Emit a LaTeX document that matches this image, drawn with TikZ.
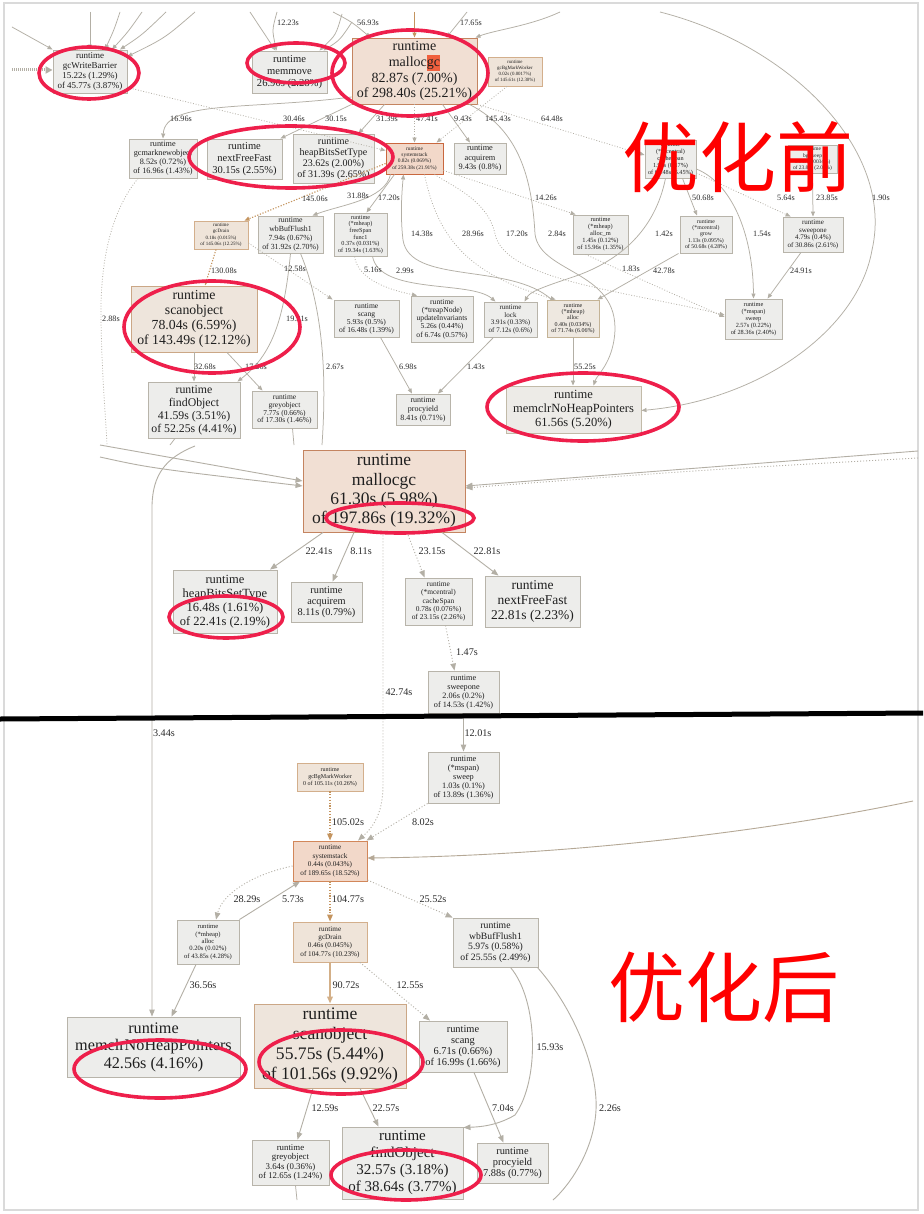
\documentclass[tikz,border=0pt]{standalone}
\usepackage{fontspec}
\setmainfont{Liberation Serif}
\newfontfamily\cjkfont{Noto Sans CJK SC}
\usetikzlibrary{arrows.meta}
\definecolor{boxfill}{HTML}{EDEDEB}
\definecolor{boxline}{HTML}{B8B4AA}
\definecolor{mallocfill}{HTML}{F1DFD3}
\definecolor{mallocline}{HTML}{C48460}
\definecolor{sysfill}{HTML}{F2D8C9}
\definecolor{sysline}{HTML}{C9683F}
\definecolor{sys2line}{HTML}{D2875A}
\definecolor{palefill}{HTML}{EFE4D9}
\definecolor{paleline}{HTML}{D3AF8C}
\definecolor{scofill}{HTML}{EEE5DC}
\definecolor{scoline}{HTML}{CBA786}
\definecolor{alfill}{HTML}{EEE8E0}
\definecolor{alline}{HTML}{C4B396}
\definecolor{mcfill}{HTML}{EDEBE7}
\definecolor{mcline}{HTML}{C2BAA8}
\definecolor{edgec}{HTML}{B3AFA5}
\definecolor{edgeo}{HTML}{C4945F}
\definecolor{lblc}{HTML}{2B2B2B}
\definecolor{ringc}{HTML}{EE1F4B}
\definecolor{cjkred}{HTML}{FF0000}
\definecolor{hlc}{HTML}{F0603E}
\definecolor{framec}{HTML}{DADADA}
\newcommand\hlgc[1]{{\setlength{\fboxsep}{0pt}\colorbox{hlc}{\strut #1}}}
\newcommand\gvbox[9]{%
  \pgfmathsetmacro\gvw{#4-#2}%
  \pgfmathsetmacro\gvh{#5-#3}%
  \pgfmathsetmacro\gvcx{(#2+#4)/2}%
  \pgfmathsetmacro\gvcy{(#3+#5)/2}%
  \node[#6, minimum width=\gvw pt, minimum height=\gvh pt, font=\fontsize{#7}{#8}\selectfont] (#1) at (\gvcx,\gvcy) {#9};}
\begin{document}
\begin{tikzpicture}[x=1pt,y=-1pt,
  boxG/.style={draw=boxline, fill=boxfill, line width=0.9pt, align=center, inner sep=0pt, text=black!88},
  boxM/.style={boxG, fill=mallocfill, draw=mallocline},
  boxS/.style={boxG, fill=sysfill, draw=sysline},
  boxS2/.style={boxG, fill=sysfill, draw=sys2line},
  boxP/.style={boxG, fill=palefill, draw=paleline},
  boxC/.style={boxG, fill=scofill, draw=scoline},
  boxA/.style={boxG, fill=alfill, draw=alline},
  boxMC/.style={boxG, fill=mcfill, draw=mcline},
  edgeT/.style={draw=edgec, line width=0.75pt, -{Triangle[length=5pt,width=4pt]}},
  edgeTd/.style={edgeT, dash pattern=on 0.9pt off 1.8pt},
  edgeTo/.style={edgeT, draw=edgeo, line width=1.1pt, dash pattern=on 1.2pt off 1.6pt},
  edgeB/.style={draw=edgec, line width=0.9pt, -{Triangle[length=7pt,width=5.5pt]}},
  edgeBd/.style={edgeB, dash pattern=on 1pt off 2pt},
  edgeBo/.style={edgeB, draw=edgeo, line width=1.4pt, dash pattern=on 1.2pt off 1.6pt},
  edgeThick/.style={draw=edgec, line width=3pt, dash pattern=on 1.2pt off 0.8pt, -{Triangle[length=7pt,width=7pt]}},
  stubT/.style={draw=edgec, line width=0.75pt},
  labT/.style={font=\fontsize{8.2}{9}\selectfont, text=lblc, inner sep=0pt},
  labB/.style={font=\fontsize{10.2}{11}\selectfont, text=lblc, inner sep=0pt},
  redRing/.style={draw=ringc, line width=3.6pt},
  cjkText/.style={font=\cjkfont\fontsize{77}{80}\selectfont, text=cjkred, inner sep=0pt}]
\useasboundingbox (0,0) rectangle (923,1214);
\fill[white] (0,0) rectangle (923,1214);
\draw[framec, line width=1.2pt] (4,3) rectangle (918,1210);

% ---------- top (before) nodes ----------
\gvbox{wbA}{53}{50}{127}{93}{boxG}{9}{9.8}{runtime\\gcWriteBarrier\\15.22s (1.29\%)\\of 45.77s (3.87\%)}
\gvbox{mmA}{252}{51}{327}{93}{boxG}{10.6}{12}{runtime\\memmove\\26.90s (2.28\%)}
\gvbox{mallocA}{352}{38}{477}{104}{boxM}{14}{15.8}{runtime\\malloc\hlgc{gc}\\82.87s (7.00\%)\\of 298.40s (25.21\%)}
\gvbox{bgmwA}{488}{57}{542}{86}{boxP}{4.9}{6.2}{runtime\\gcBgMarkWorker\\0.02s (0.0017\%)\\of 145.61s (12.30\%)}
\gvbox{gcmnA}{129}{139}{197}{178}{boxG}{8.2}{9}{runtime\\gcmarknewobject\\8.52s (0.72\%)\\of 16.96s (1.43\%)}
\gvbox{nffA}{207}{139}{282}{179}{boxG}{10.5}{11.7}{runtime\\nextFreeFast\\30.15s (2.55\%)}
\gvbox{hbstA}{293}{134}{374}{183}{boxG}{10}{11}{runtime\\heapBitsSetType\\23.62s (2.00\%)\\of 31.39s (2.65\%)}
\gvbox{sysA}{386}{143}{443}{174}{boxS}{5.4}{6.2}{runtime\\systemstack\\0.82s (0.069\%)\\of 259.38s (21.91\%)}
\gvbox{acqA}{454}{143}{506}{174}{boxG}{8.3}{9.5}{runtime\\acquirem\\9.43s (0.8\%)}
\gvbox{csA}{645}{140}{696}{178}{boxG}{6.2}{7}{runtime\\(*mcentral)\\cacheSpan\\1.98s (0.17\%)\\of 64.48s (5.45\%)}
\gvbox{bgswA}{788}{145}{837}{173}{boxG}{5.4}{6.3}{runtime\\bgsweep\\0.04s (0.0034\%)\\of 23.85s (2.01\%)}
\gvbox{gcdA}{194}{221}{248}{249}{boxP}{5}{6.3}{runtime\\gcDrain\\0.18s (0.015\%)\\of 145.06s (12.25\%)}
\gvbox{wbfA}{258}{216}{323}{253}{boxG}{7.8}{9}{runtime\\wbBufFlush1\\7.94s (0.67\%)\\of 31.92s (2.70\%)}
\gvbox{fsA}{334}{213}{387}{256}{boxG}{6.2}{6.6}{runtime\\(*mheap)\\freeSpan\\func1\\0.37s (0.031\%)\\of 19.34s (1.63\%)}
\gvbox{amA}{573}{215}{628}{254}{boxG}{6.4}{7}{runtime\\(*mheap)\\alloc\_m\\1.45s (0.12\%)\\of 15.96s (1.35\%)}
\gvbox{growA}{680}{216}{732}{253}{boxG}{5.8}{6.3}{runtime\\(*mcentral)\\grow\\1.13s (0.095\%)\\of 50.68s (4.28\%)}
\gvbox{swoA}{783}{217}{843}{252}{boxG}{7}{7.6}{runtime\\sweepone\\4.79s (0.4\%)\\of 30.86s (2.61\%)}
\gvbox{scoA}{131}{286}{257}{352}{boxC}{13.8}{15}{runtime\\scanobject\\78.04s (6.59\%)\\of 143.49s (12.12\%)}
\gvbox{foA}{148}{382}{240}{438}{boxG}{11.8}{13}{runtime\\findObject\\41.59s (3.51\%)\\of 52.25s (4.41\%)}
\gvbox{goA}{252}{391}{317}{428}{boxG}{7.5}{7.8}{runtime\\greyobject\\7.77s (0.66\%)\\of 17.30s (1.46\%)}
\gvbox{scgA}{334}{300}{399}{337}{boxG}{7.6}{8}{runtime\\scang\\5.93s (0.5\%)\\of 16.48s (1.39\%)}
\gvbox{tnA}{411}{296}{473}{342}{boxG}{7.6}{8.2}{runtime\\(*treapNode)\\updateInvariants\\5.26s (0.44\%)\\of 6.74s (0.57\%)}
\gvbox{lockA}{484}{302}{537}{337}{boxG}{7}{7.7}{runtime\\lock\\3.91s (0.33\%)\\of 7.12s (0.6\%)}
\gvbox{alA}{547}{300}{599}{337}{boxA}{6}{6.4}{runtime\\(*mheap)\\alloc\\0.40s (0.034\%)\\of 71.74s (6.06\%)}
\gvbox{swA}{725}{299}{782}{339}{boxG}{6.3}{7}{runtime\\(*mspan)\\sweep\\2.57s (0.22\%)\\of 28.36s (2.40\%)}
\gvbox{pyA}{396}{394}{450}{425}{boxG}{8}{8.8}{runtime\\procyield\\8.41s (0.71\%)}
\gvbox{mcA}{506}{386}{641}{433}{boxMC}{12.5}{14}{runtime\\memclrNoHeapPointers\\61.56s (5.20\%)}

% ---------- middle nodes ----------
\gvbox{mallocB}{303}{450}{465}{532}{boxM}{17.5}{19.3}{runtime\\mallocgc\\61.30s (5.98\%)\\of 197.86s (19.32\%)}
\gvbox{hbstB}{173}{570}{277}{633}{boxG}{12.5}{14}{runtime\\heapBitsSetType\\16.48s (1.61\%)\\of 22.41s (2.19\%)}
\gvbox{acqB}{291}{582}{362}{622}{boxG}{10.3}{11}{runtime\\acquirem\\8.11s (0.79\%)}
\gvbox{csB}{405}{578}{472}{625}{boxG}{7.4}{8.2}{runtime\\(*mcentral)\\cacheSpan\\0.78s (0.076\%)\\of 23.15s (2.26\%)}
\gvbox{nffB}{485}{576}{580}{627}{boxG}{13.5}{15}{runtime\\nextFreeFast\\22.81s (2.23\%)}
\gvbox{swoB}{428}{671}{499}{713}{boxG}{8.2}{9}{runtime\\sweepone\\2.06s (0.2\%)\\of 14.53s (1.42\%)}

% ---------- bottom (after) nodes ----------
\gvbox{swB}{428}{752}{499}{803}{boxG}{8.3}{9}{runtime\\(*mspan)\\sweep\\1.03s (0.1\%)\\of 13.89s (1.36\%)}
\gvbox{bgmwB}{297}{763}{363}{791}{boxP}{6}{7}{runtime\\gcBgMarkWorker\\0 of 105.11s (10.26\%)}
\gvbox{sysB}{293}{841}{367}{881}{boxS2}{7.2}{8.5}{runtime\\systemstack\\0.44s (0.043\%)\\of 189.65s (18.52\%)}
\gvbox{alB}{177}{920}{239}{964}{boxG}{6.6}{7.4}{runtime\\(*mheap)\\alloc\\0.20s (0.02\%)\\of 43.85s (4.28\%)}
\gvbox{gcdB}{293}{922}{367}{962}{boxP}{7.2}{8.3}{runtime\\gcDrain\\0.46s (0.045\%)\\of 104.77s (10.23\%)}
\gvbox{wbfB}{453}{918}{538}{967}{boxG}{9.7}{10.5}{runtime\\wbBufFlush1\\5.97s (0.58\%)\\of 25.55s (2.49\%)}
\gvbox{mcB}{67}{1017}{240}{1077}{boxG}{16.2}{17.5}{runtime\\memclrNoHeapPointers\\42.56s (4.16\%)}
\gvbox{scoB}{254}{1004}{406}{1088}{boxC}{17.6}{20}{runtime\\scanobject\\55.75s (5.44\%)\\of 101.56s (9.92\%)}
\gvbox{scgB}{419}{1021}{507}{1072}{boxG}{10.4}{11}{runtime\\scang\\6.71s (0.66\%)\\of 16.99s (1.66\%)}
\gvbox{goB}{252}{1140}{329}{1185}{boxG}{8.8}{9.6}{runtime\\greyobject\\3.64s (0.36\%)\\of 12.65s (1.24\%)}
\gvbox{foB}{342}{1127}{463}{1199}{boxG}{15}{17}{runtime\\findObject\\32.57s (3.18\%)\\of 38.64s (3.77\%)}
\gvbox{pyB}{477}{1143}{548}{1183}{boxG}{10.4}{11}{runtime\\procyield\\7.88s (0.77\%)}

% ---------- free ends ----------
\coordinate (i1) at (12,27);
\coordinate (i2) at (90,12);
\coordinate (i3) at (120,12);
\coordinate (i4) at (142,12);
\coordinate (i5) at (166,12);
\coordinate (i6) at (195,12);
\coordinate (i7) at (12,70);
\coordinate (i8) at (250,12);
\coordinate (i9) at (277,12);
\coordinate (i10) at (342,14);
\coordinate (i11) at (352,22);
\coordinate (i12) at (333,12);
\coordinate (i13) at (414.5,12);
\coordinate (i14) at (467,12);
\coordinate (i15) at (560,12);
\coordinate (arcTop) at (660,12);
\coordinate (c1) at (322,445);
\coordinate (c2) at (107,445);
\coordinate (c3) at (170,445);
\coordinate (c4) at (294,445);
\coordinate (L1) at (100,445);
\coordinate (L2) at (100,457);
\coordinate (R1) at (918,451);
\coordinate (R2) at (918,458);
\coordinate (T344) at (195,446);
\coordinate (R3) at (913,801);
\coordinate (c5) at (553,1200);
\coordinate (c6) at (297,1200);

% ---------- top edges ----------
\draw[edgeT] (i1) -- (wbA.north west);
\draw[edgeT] (i2) -- (wbA.north);
\draw[edgeT] (i3) .. controls (114,30) .. ([xshift=15pt]wbA.north);
\draw[edgeT] (i4) .. controls (128,32) .. ([xshift=22pt]wbA.north);
\draw[edgeT] (i5) .. controls (142,35) .. ([xshift=30pt]wbA.north);
\draw[edgeT] (i6) .. controls (165,38) .. ([yshift=15pt]wbA.east);
\draw[edgeThick] (i7) -- ([yshift=1.5pt]wbA.west);
\draw[edgeT] (i8) -- ([xshift=-14pt]mmA.north);
\draw[edgeT] (i9) .. controls (272,30) .. ([xshift=-13pt]mmA.north);
\draw[edgeT] (i10) .. controls (336,35) .. ([xshift=30pt]mmA.north);
\draw[edgeT] (i11) .. controls (340,40) .. ([xshift=34pt]mmA.north);
\draw[edgeT] (i12) .. controls (352,22) .. ([xshift=-44pt]mallocA.north);
\draw[edgeTo, solid] (i13) -- (mallocA.north);
\draw[edgeT] (i14) -- ([xshift=32pt]mallocA.north);
\draw[edgeT] (i15) .. controls (530,26) and (495,30) .. ([xshift=-2pt]mallocA.north east);

\draw[edgeTd] ([yshift=-16pt]wbA.east) -- ([yshift=8pt]sysA.west);
\draw[edgeT] ([yshift=-26pt]mallocA.west) .. controls (250,110) and (165,100) .. (gcmnA.north);
\draw[edgeT] (mallocA.south west) -- ([xshift=-2pt]nffA.north east);
\draw[edgeT] ([xshift=-30pt]mallocA.south) -- ([xshift=25pt]hbstA.north);
\draw[edgeTd] (mallocA.south) -- (sysA.north);
\draw[edgeT] ([xshift=28pt]mallocA.south) -- ([xshift=-10pt]acqA.north);
\draw[edgeTd] ([xshift=-8pt]bgmwA.south) -- ([xshift=22pt]sysA.north);
\draw[edgeTd] (mallocA.south east) -- ([yshift=4pt]csA.west);
\draw[edgeT] ([xshift=-8pt]mallocA.south east) .. controls (520,130) and (532,180) .. (535,234) .. controls (540,275) and (625,270) .. (614,340) .. controls (610,365) and (597,375) .. ([xshift=20pt]mcA.north);
\draw[edgeTd] ([yshift=-12pt]sysA.east) -- ([xshift=3pt]amA.north west);
\draw[edgeTo] ([yshift=-5pt]sysA.west) -- ([xshift=-4pt]gcdA.north east);
\draw[edgeT] ([xshift=-24pt]sysA.south) .. controls (385,200) and (340,205) .. ([xshift=22pt]wbfA.north);
\draw[edgeT] ([xshift=-20pt]sysA.south) -- ([xshift=6pt]fsA.north);
\draw[edgeT] ([xshift=5pt]alA.north west) .. controls (510,262) and (410,285) .. (403,240) .. controls (400,215) and (402,190) .. ([xshift=-11pt]sysA.south);
\draw[edgeTd] ([xshift=10pt]sysA.south) .. controls (438,240) and (470,275) .. ([xshift=9pt]alA.north west);
\draw[edgeTd] ([xshift=20pt]sysA.south) .. controls (450,185) and (488,200) .. (495,234) .. controls (505,280) and (620,290) .. ([yshift=4pt]swA.west);
\draw[edgeTd] ([xshift=-6pt]fsA.south) .. controls (358,280) and (390,290) .. ([xshift=-25pt]tnA.north);
\draw[edgeT] ([xshift=12pt]fsA.south) .. controls (380,295) and (470,280) .. ([xshift=-15pt]lockA.north);
\draw[edgeT] ([xshift=-5pt]csA.south) .. controls (655,230) and (620,262) .. (570,278) .. controls (540,288) and (530,292) .. ([xshift=14pt]lockA.north);
\draw[edgeT] ([xshift=12pt]csA.south) -- ([xshift=-9pt]growA.north);
\draw[edgeT] ([yshift=-10pt]csA.east) .. controls (735,185) and (753,240) .. (swA.north);
\draw[edgeTd] ([yshift=-14pt]csA.east) -- ([xshift=8pt]swoA.north west);
\draw[edgeT] (bgswA.south) -- (swoA.north);
\draw[edgeT] ([xshift=-12pt]swoA.south) -- ([xshift=14pt]swA.north);
\draw[edgeT] ([xshift=-1pt]growA.south west) -- ([xshift=-2pt]alA.north east);
\draw[edgeTd] ([xshift=-15pt]amA.south) -- ([yshift=2pt]swA.west);
\draw[edgeT] (arcTop) .. controls (790,45) and (895,150) .. (872,250) .. controls (858,330) and (760,400) .. ([yshift=-1pt]mcA.east);
\draw[edgeTo] ([xshift=-5pt]gcdA.south) -- ([xshift=11pt]scoA.north);
\draw[edgeTd] ([yshift=-8pt]gcdA.east) -- ([xshift=-1pt]scgA.north west);
\draw[edgeT] (wbfA.south) .. controls (284,320) and (272,355) .. ([xshift=-3pt]foA.north east);
\draw[stubT] ([xshift=10pt]wbfA.south) .. controls (328,320) and (325,400) .. (c1);
\draw[edgeT] (scoA.south) -- (foA.north);
\draw[edgeT] ([xshift=33pt]scoA.south) -- ([xshift=-22pt]goA.north);
\draw[edgeT] ([xshift=14pt]scgA.south) -- ([xshift=-11pt]pyA.north);
\draw[edgeT] ([xshift=-17pt]lockA.south) -- ([xshift=15pt]pyA.north);
\draw[edgeT] (alA.south) -- ([xshift=-0.5pt]mcA.north);
\draw[stubT, dash pattern=on 0.9pt off 1.8pt] ([xshift=-25pt]gcmnA.south) .. controls (108,215) and (100,270) .. (101,320) .. controls (102,380) and (106,420) .. (c2);
\draw[stubT] ([xshift=-19pt]foA.south) -- (c3);
\draw[stubT] ([xshift=8pt]goA.south) -- (c4);

% top labels
\node[labT] (t01) at (181,119) {16.96s};
\node[labT] (t02) at (294,119) {30.46s};
\node[labT] (t03) at (336,119) {30.15s};
\node[labT] (t04) at (387,119) {31.39s};
\node[labT] (t05) at (427,119) {47.41s};
\node[labT] (t06) at (463,119) {9.43s};
\node[labT] (t07) at (498,119) {145.43s};
\node[labT] (t08) at (552,119) {64.48s};
\node[labT] (t09) at (288,23) {12.23s};
\node[labT] (t10) at (368,23) {56.93s};
\node[labT] (t11) at (471,23) {17.65s};
\node[labT] (t12) at (315,199) {145.06s};
\node[labT] (t13) at (358,196) {31.88s};
\node[labT] (t14) at (389,198) {17.20s};
\node[labT] (t15) at (546,198) {14.26s};
\node[labT] (t16) at (703,198) {50.68s};
\node[labT] (t17) at (786,198) {5.64s};
\node[labT] (t18) at (827,198) {23.85s};
\node[labT] (t19) at (881,198) {1.90s};
\node[labT] (t20) at (422,234) {14.38s};
\node[labT] (t21) at (473,234) {28.96s};
\node[labT] (t22) at (517,234) {17.20s};
\node[labT] (t23) at (557,234) {2.84s};
\node[labT] (t24) at (664,234) {1.42s};
\node[labT] (t25) at (762,234) {1.54s};
\node[labT] (t26) at (224,271) {130.08s};
\node[labT] (t27) at (295,269) {12.58s};
\node[labT] (t28) at (373,270) {5.16s};
\node[labT] (t29) at (405,271) {2.99s};
\node[labT] (t30) at (631,269) {1.83s};
\node[labT] (t31) at (664,271) {42.78s};
\node[labT] (t32) at (801,271) {24.91s};
\node[labT] (t33) at (111,319) {2.88s};
\node[labT] (t34) at (297,319) {19.31s};
\node[labT] (t35) at (205,367) {32.68s};
\node[labT] (t36) at (256,367) {17.20s};
\node[labT] (t37) at (335,367) {2.67s};
\node[labT] (t38) at (408,367) {6.98s};
\node[labT] (t39) at (476,367) {1.43s};
\node[labT] (t40) at (585,367) {55.25s};

% ---------- middle edges ----------
\draw[edgeB] (L1) -- ([yshift=10pt]mallocB.west);
\draw[edgeB] (L2) .. controls (150,468) .. ([yshift=5pt]mallocB.west);
\draw[edgeB] (R1) -- ([yshift=5pt]mallocB.east);
\draw[edgeBd] (R2) .. controls (700,470) .. ([yshift=3pt]mallocB.east);
\draw[edgeB] (T344) .. controls (165,458) and (153,475) .. (152,505) -- ([xshift=-1.5pt]mcB.north);
\draw[edgeB] ([xshift=-61pt]mallocB.south) -- ([xshift=45pt]hbstB.north);
\draw[edgeB] ([xshift=-30pt]mallocB.south) -- ([xshift=6pt]acqB.north);
\draw[edgeBd] ([xshift=23pt]mallocB.south) -- ([xshift=-14pt]csB.north);
\draw[edgeB] ([xshift=58pt]mallocB.south) -- ([xshift=-34pt]nffB.north);
\draw[edgeBd] ([xshift=-1pt]mallocB.south) -- (383,785) .. controls (383,815) and (372,828) .. ([xshift=28pt]sysB.north);
\draw[edgeBd] ([xshift=7pt]csB.south) -- ([xshift=-9pt]swoB.north);
\draw[edgeB] (swoB.south) -- (swB.north);

% ---------- bottom edges ----------
\draw[edgeBo] (bgmwB.south) -- (sysB.north);
\draw[edgeBd] (swB.south west) -- ([xshift=-1pt]sysB.north east);
\draw[edgeB, draw=edgec!85!brown] (R3) .. controls (750,835) and (550,856) .. ([yshift=3pt]sysB.east);
\draw[edgeBd] ([yshift=-5pt]sysB.west) .. controls (250,875) and (222,895) .. ([xshift=8pt]alB.north);
\draw[edgeB] (alB.north east) -- ([xshift=-30pt]sysB.south);
\draw[edgeBo] (sysB.south) -- (gcdB.north);
\draw[edgeBd] ([yshift=-19pt]sysB.east) -- (wbfB.north west);
\draw[edgeB] ([xshift=-12pt]alB.south) -- ([xshift=18pt]mcB.north);
\draw[edgeB, draw=edgeo!75, line width=2.4pt] (gcdB.south) -- (scoB.north);
\draw[edgeBd] ([xshift=30pt]gcdB.south) -- ([xshift=-33pt]scgB.north);
\draw[edgeB] ([xshift=15pt]wbfB.south) .. controls (538,1000) and (540,1080) .. (515,1115) .. controls (495,1127) and (475,1127) .. ([yshift=-1pt]foB.north east);
\draw[stubT, line width=0.9pt] ([xshift=-1pt]wbfB.south east) .. controls (575,1010) and (598,1070) .. (596,1110) .. controls (594,1150) and (570,1185) .. (c5);
\draw[edgeB] ([xshift=-17pt]scoB.south) -- ([xshift=7pt]goB.north);
\draw[edgeB] ([xshift=30pt]scoB.south) -- ([xshift=-24pt]foB.north);
\draw[edgeB] ([xshift=11pt]scgB.south) -- ([xshift=-9pt]pyB.north);
\draw[stubT] ([xshift=5pt]goB.south) -- (c6);

% middle and bottom labels
\node[labB] (b01) at (319,551) {22.41s};
\node[labB] (b02) at (361,551) {8.11s};
\node[labB] (b03) at (432,551) {23.15s};
\node[labB] (b04) at (487,551) {22.81s};
\node[labB] (b05) at (467,652) {1.47s};
\node[labB] (b06) at (399,692) {42.74s};
\node[labB] (b07) at (478,733) {12.01s};
\node[labB] (b08) at (164,733) {3.44s};
\node[labB] (b09) at (348,822) {105.02s};
\node[labB] (b10) at (423,822) {8.02s};
\node[labB] (b11) at (247,899) {28.29s};
\node[labB] (b12) at (293,899) {5.73s};
\node[labB] (b13) at (348,899) {104.77s};
\node[labB] (b14) at (433,899) {25.52s};
\node[labB] (b15) at (203,985) {36.56s};
\node[labB] (b16) at (346,985) {90.72s};
\node[labB] (b17) at (410,985) {12.55s};
\node[labB] (b18) at (550,1047) {15.93s};
\node[labB] (b19) at (325,1108) {12.59s};
\node[labB] (b20) at (386,1108) {22.57s};
\node[labB] (b21) at (503,1108) {7.04s};
\node[labB] (b22) at (610,1108) {2.26s};

% separator
\draw[black, line width=5pt] (0,719) -- (923,713);

% red rings
\draw[redRing] (89,73) ellipse [x radius=50pt, y radius=26pt];
\draw[redRing] (296,63) ellipse [x radius=49pt, y radius=20pt];
\draw[redRing] (410,73) ellipse [x radius=78pt, y radius=43pt];
\draw[redRing] (291,157) ellipse [x radius=102pt, y radius=31pt];
\draw[redRing] (212,327) ellipse [x radius=88pt, y radius=46pt];
\draw[redRing] (583,407) ellipse [x radius=96pt, y radius=34pt];
\draw[redRing] (400,518) ellipse [x radius=74pt, y radius=15pt];
\draw[redRing] (226,617) ellipse [x radius=57pt, y radius=21pt];
\draw[redRing] (160,1069) ellipse [x radius=86pt, y radius=29pt];
\draw[redRing] (341,1062) ellipse [x radius=82pt, y radius=32pt];
\draw[redRing] (406,1175) ellipse [x radius=75pt, y radius=25pt];

% titles
\node[cjkText] (before) at (738,157) {优化前};
\node[cjkText] (after) at (724,987) {优化后};
\end{tikzpicture}
\end{document}
